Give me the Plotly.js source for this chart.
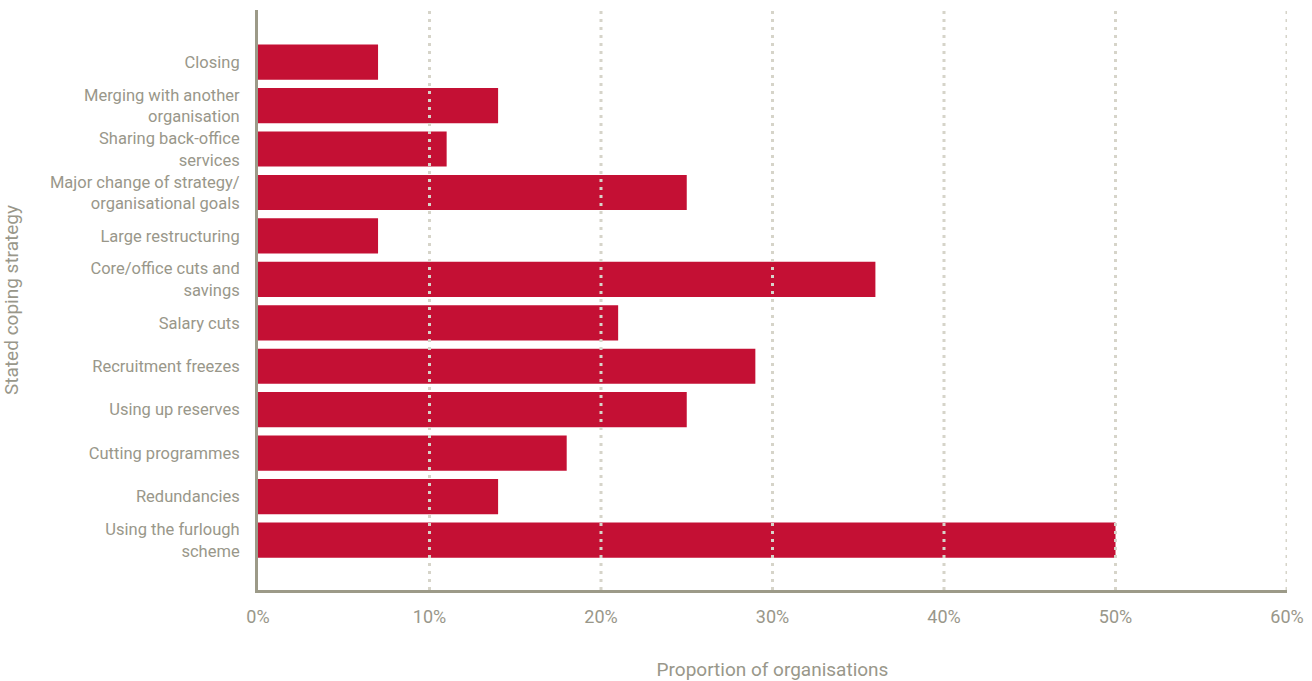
<!DOCTYPE html>
<html>
<head>
<meta charset="utf-8">
<script src="https://cdn.plot.ly/plotly-3.0.1.min.js"></script>
<style>html,body{margin:0;padding:0;background:#fff;}#chart{width:1312px;height:681px;}</style>
</head>
<body>
<div id="chart"></div>
<script>
const categories = [
  "Using the furlough<br>scheme",
  "Redundancies",
  "Cutting programmes",
  "Using up reserves",
  "Recruitment freezes",
  "Salary cuts",
  "Core/office cuts and<br>savings",
  "Large restructuring",
  "Major change of strategy/<br>organisational goals",
  "Sharing back-office<br>services",
  "Merging with another<br>organisation",
  "Closing"
];
const values = [50, 14, 18, 25, 29, 21, 36, 7, 25, 11, 14, 7];
const xTicks = [0, 10, 20, 30, 40, 50, 60];
const xTickLabels = ["0%", "10%", "20%", "30%", "40%", "50%", "60%"];

const textColor = "#99978a";
const axisColor = "#9c9a88";
const gridColor = "#d6d4c9";

const gridShapes = xTicks.filter(v => v > 0).map(v => ({
  type: "line", xref: "x", yref: "paper", x0: v, x1: v, y0: 0, y1: 1,
  line: {color: gridColor, width: 3, dash: "3px,5px"}, layer: "above"
}));

Plotly.newPlot("chart", [{
  type: "bar",
  orientation: "h",
  y: categories,
  x: values,
  marker: {color: "#c41034"},
  hoverinfo: "x+y"
}], {
  width: 1312, height: 681,
  margin: {l: 258, r: 25, t: 10, b: 91},
  paper_bgcolor: "#fff", plot_bgcolor: "#fff",
  font: {family: "Roboto, sans-serif", size: 16.5, color: textColor},
  bargap: 0.19,
  showlegend: false,
  xaxis: {
    range: [0, 60], tickvals: xTicks, ticktext: xTickLabels,
    showgrid: false, zeroline: false,
    showline: true, linecolor: axisColor, linewidth: 3,
    ticks: "", ticklen: 0, ticklabelstandoff: 8,
    tickfont: {size: 18, color: textColor},
    title: {text: "Proportion of organisations", font: {size: 19, color: textColor}, standoff: 40}
  },
  yaxis: {
    type: "category", range: [-1.15, 12.2],
    showgrid: false, zeroline: false,
    showline: true, linecolor: axisColor, linewidth: 3,
    ticks: "", ticklen: 0, ticklabelstandoff: 12,
    tickfont: {size: 16.5, color: textColor},
    title: {text: "Stated coping strategy", font: {size: 19, color: textColor}, standoff: 28}
  },
  shapes: gridShapes
}, {displayModeBar: false, staticPlot: true});
</script>
</body>
</html>
